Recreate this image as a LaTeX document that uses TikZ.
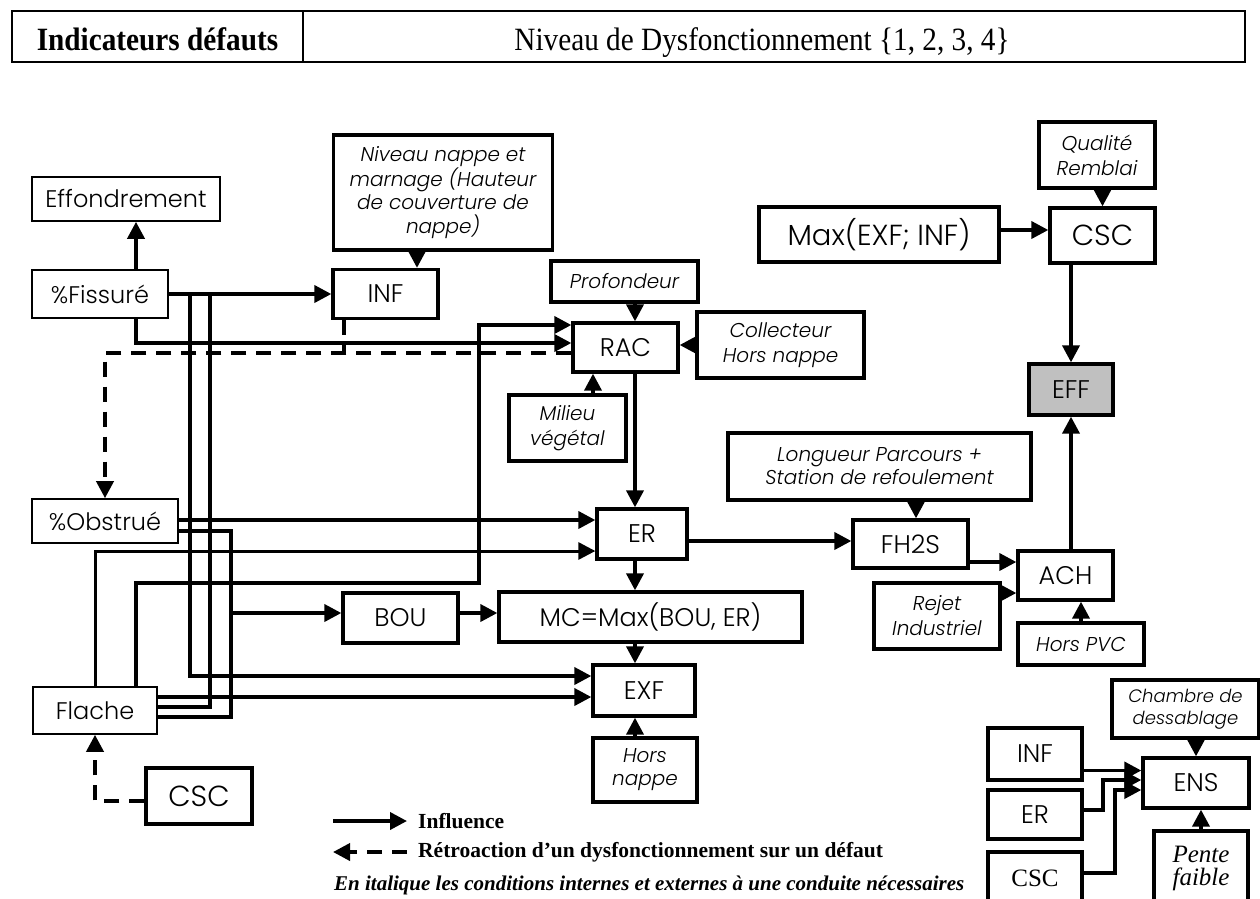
\documentclass[tikz,border=0pt]{standalone}
\usepackage{fontspec}
\usetikzlibrary{arrows.meta,calc}
\newfontfamily\gothic{Poppins}[UprightFont={* Light}, ItalicFont={* Light Italic}]
\newfontfamily\tnrfont{Liberation Serif}
\newfontfamily\tnrnarrow{Liberation Serif}[FakeStretch=0.9]
\newcommand\dglab{\gothic\fontsize{24}{29}\selectfont}
\newcommand\dgmid{\gothic\fontsize{25.5}{30}\selectfont}
\newcommand\dgbig{\gothic\fontsize{29}{34}\selectfont}
\newcommand\dgcond{\gothic\itshape\fontsize{20}{25}\selectfont}
\newcommand\dgsmall{\gothic\itshape\fontsize{18}{22}\selectfont}
\newcommand\dgleg{\tnrfont\bfseries\fontsize{21.5}{26}\selectfont}
\newcommand\dghead{\tnrnarrow\fontsize{32.5}{38}\selectfont}
\definecolor{effgray}{HTML}{C0C0C0}
\tikzset{
  every node/.style={inner sep=0pt},
  sz/.style 2 args={minimum width=#1pt, minimum height=#2pt},
  blk/.style={draw, line width=3.3pt, align=center, font=\dgmid},
  lightbox/.style={draw, line width=1.6pt, align=center, font=\dglab},
  condbox/.style={blk, font=\dgcond},
  wire/.style={line width=3.7pt},
  flow/.style={wire, -{Triangle[length=17pt,width=17pt]}},
  fb/.style={wire, dash pattern=on 15pt off 10pt},
  fbarrow/.style={fb, -{Triangle[length=17pt,width=17pt]}},
}
\begin{document}
\begin{tikzpicture}[x=1pt,y=-1pt]
\useasboundingbox (0,0) rectangle (1260,898);
\fill[white] (0,0) rectangle (1260,898);

% header table
\draw[line width=1.8pt] (12,11) rectangle (1245,62);
\draw[line width=1.8pt] (303,11) -- (303,62);
\node[anchor=base, font=\dghead\bfseries] (hdl) at (157.5,50) {Indicateurs défauts};
\node[anchor=base, font=\dghead] (hdr) at (762,50) {Niveau de Dysfonctionnement \{1, 2, 3, 4\}};

% defects (left column)
\node[lightbox, sz={188}{44}] (eff) at (126,199) {Effondrement};
\node[lightbox, sz={136}{48}] (fis) at (100,294) {\%Fissuré};
\node[lightbox, sz={146}{44}] (obs) at (105,521) {\%Obstrué};
\node[lightbox, sz={124}{47}] (fla) at (95,710.5) {Flache};
\node[blk, font=\dgbig, sz={106}{56}] (cscl) at (199,796) {CSC};

% malfunctions and conditions
\node[blk, sz={105}{49}] (inf) at (385.5,294) {INF};
\node[condbox, sz={219}{115}, font=\gothic\itshape\fontsize{20}{23.5}\selectfont] (niv) at (443,192.5) {Niveau nappe et\\marnage (Hauteur\\de couverture de\\nappe)};
\node[condbox, sz={147}{41}] (pro) at (624.5,281.5) {Profondeur};
\node[blk, sz={105}{49}] (rac) at (625.5,347.5) {RAC};
\node[condbox, sz={167}{66}] (col) at (780.5,345) {Collecteur\\Hors nappe};
\node[condbox, sz={117}{66}] (mil) at (567.5,428) {Milieu\\végétal};
\node[blk, sz={90}{50}] (er) at (642,534) {ER};
\node[blk, sz={115}{50}] (bou) at (400.5,618) {BOU};
\node[blk, sz={303}{50}] (mc) at (650.5,617) {MC=Max(BOU, ER)};
\node[blk, sz={102}{51}] (exf) at (644,690.5) {EXF};
\node[condbox, sz={104}{64}, font=\gothic\itshape\fontsize{20}{23}\selectfont] (hn) at (645,770) {Hors\\nappe};
\node[condbox, sz={303}{67}, font=\gothic\itshape\fontsize{20}{23}\selectfont] (lon) at (879.5,466.5) {Longueur Parcours +\\Station de refoulement};
\node[blk, sz={115}{48}] (fh) at (910.5,544) {FH2S};
\node[blk, sz={95}{49}] (ach) at (1065.5,575.5) {ACH};
\node[condbox, sz={126}{66}] (rej) at (937,616) {Rejet\\Industriel};
\node[condbox, sz={126}{42}] (pvc) at (1081,644) {Hors PVC};
\node[blk, fill=effgray, sz={84}{51}] (effb) at (1071,389.5) {EFF};
\node[blk, font=\dgbig, sz={105}{55}] (csct) at (1102.5,235.5) {CSC};
\node[blk, font=\dgbig, sz={240}{55}] (max) at (879,234.5) {Max(EXF; INF)};
\node[condbox, sz={116}{66}] (qua) at (1097,155) {Qualité\\Remblai};

% sand chamber group
\node[blk, sz={106}{50}] (ens) at (1196,783) {ENS};
\node[condbox, font=\dgsmall, sz={147}{58}] (cha) at (1185.5,709) {Chambre de\\dessablage};
\node[blk, sz={94}{52}] (infb) at (1035,754) {INF};
\node[blk, sz={94}{49}] (erb) at (1035,814.5) {ER};
\node[blk, font=\tnrfont\fontsize{25}{30}\selectfont, sz={94}{52}] (cscb) at (1035,878) {CSC};
\node[blk, font=\tnrfont\itshape\fontsize{25}{23}\selectfont, sz={94}{74}] (pen) at (1201,868) {Pente\\faible};

% links from the defects
\coordinate (fisUp) at ($(fis.north)+(36,0)$);
\draw[flow] (fisUp) -- (fisUp |- eff.south);
\draw[flow] (fis.east) -- (inf.west);
\coordinate (busA) at ($(fis.east)+(21,0)$);
\coordinate (busB) at ($(fis.east)+(41,0)$);
\coordinate (exfA) at ($(exf.west)+(0,-14.5)$);
\draw[flow] (busA) |- (exfA);
\draw[wire] (busB) |- ($(fla.east)+(0,-3.5)$);
\coordinate (fisDn) at ($(fis.south)+(36,0)$);
\draw[flow] (fisDn) |- ($(rac.west)+(0,-4.5)$);

% feedback towards %Obstrué
\coordinate (racFb) at ($(rac.west)+(0,5.5)$);
\draw[fbarrow] (racFb) -| (obs.north);
\coordinate (infFb) at ($(inf.south)+(-41.5,0)$);
\draw[fb] (infFb) -- (infFb |- racFb);

\coordinate (obsA) at ($(obs.east)+(0,-1)$);
\draw[flow] (obsA) -- (obsA -| er.west);
\coordinate (obsB) at ($(obs.east)+(0,10)$);
\coordinate (busC) at ($(obsB)+(52,0)$);
\draw[wire] (obsB) -- (busC) |- ($(fla.east)+(0,6.5)$);
\coordinate (bouIn) at ($(bou.west)+(0,-5)$);
\draw[flow] (busC |- bouIn) -- (bouIn);

\draw[flow, line width=3pt] (fla.north) |- ($(er.west)+(0,17)$);
\coordinate (flaR) at ($(fla.north)+(41,0)$);
\coordinate (racRise) at (479,583);
\draw[flow] (flaR) |- (racRise) |- ($(rac.west)+(0,-22.5)$);
\coordinate (flaE) at ($(fla.east)+(0,-13.5)$);
\draw[flow] (flaE) -- (flaE -| exf.west);

% central chain
\coordinate (racOut) at ($(rac.south)+(9.5,0)$);
\draw[flow] (racOut) -- (racOut |- er.north);
\coordinate (erOut) at ($(er.south)+(-7,0)$);
\draw[flow] (erOut) -- (erOut |- mc.north);
\coordinate (exfTop) at ($(exf.north)+(-9,0)$);
\draw[flow] (exfTop |- mc.south) -- (exfTop);
\coordinate (exfBot) at ($(exf.south)+(-9,0)$);
\draw[flow] (exfBot |- hn.north) -- (exfBot);
\coordinate (racBot) at ($(mil.north)+(25.5,0)$);
\draw[flow] (racBot) -- (racBot |- rac.south);
\coordinate (racTopIn) at ($(rac.north)+(9.5,0)$);
\draw[flow] (racTopIn |- pro.south) -- (racTopIn);
\draw[flow] (col.west) -- (col.west -| rac.east);
\coordinate (infTop) at ($(inf.north)+(31.5,0)$);
\draw[flow] (infTop |- niv.south) -- (infTop);
\coordinate (bouOut) at ($(bou.east)+(0,-5)$);
\draw[flow] (bouOut) -- (bouOut -| mc.west);

% right-hand chain
\coordinate (erR) at ($(er.east)+(0,7)$);
\draw[flow] (erR) -- (erR -| fh.west);
\coordinate (fhTop) at ($(fh.north)+(5.5,0)$);
\draw[flow] (fhTop |- lon.south) -- (fhTop);
\coordinate (fhR) at ($(fh.east)+(0,18)$);
\draw[flow] (fhR) -- (fhR -| ach.west);
\coordinate (rejR) at ($(rej.east)+(0,-23)$);
\draw[flow] (rejR) -- (rejR -| ach.west);
\draw[flow] (pvc.north) -- (pvc.north |- ach.south);
\draw[flow] (effb.south |- ach.north) -- (effb.south);
\draw[flow] (effb.north |- csct.south) -- (effb.north);
\coordinate (maxR) at ($(max.east)+(0,-4.5)$);
\draw[flow] (maxR) -- (maxR -| csct.west);
\draw[flow] (csct.north |- qua.south) -- (csct.north);

% feedback towards Flache
\draw[fbarrow] ($(cscl.west)+(0,5)$) -| (fla.south);

% sand chamber links
\coordinate (infbR) at ($(infb.east)+(0,16.5)$);
\draw[flow] (infbR) -- (infbR -| ens.west);
\draw[flow] ($(erb.east)+(0,-4.5)$) -- ++(19,0) |- ($(ens.west)+(0,-3)$);
\draw[flow] ($(cscb.east)+(0,-5)$) -- ++(31,0) |- ($(ens.west)+(0,7)$);
\draw[flow] (ens.north |- cha.south) -- (ens.north);
\draw[flow] (pen.north) -- (pen.north |- ens.south);

% legend
\coordinate (lgA) at (333,821);
\coordinate (lgB) at (407,821);
\coordinate (lgC) at (407,852);
\coordinate (lgD) at (333,852);
\draw[flow] (lgA) -- (lgB);
\draw[fbarrow] (lgC) -- (lgD);
\node[anchor=west, font=\dgleg] (lg1) at (418,821) {Influence};
\node[anchor=west, font=\dgleg] (lg2) at (418,852) {Rétroaction d’un dysfonctionnement sur un défaut};
\node[anchor=west, font=\tnrfont\bfseries\itshape\fontsize{21}{26}\selectfont] (lg3) at (334,885) {En italique les conditions internes et externes à une conduite nécessaires};
\end{tikzpicture}
\end{document}
